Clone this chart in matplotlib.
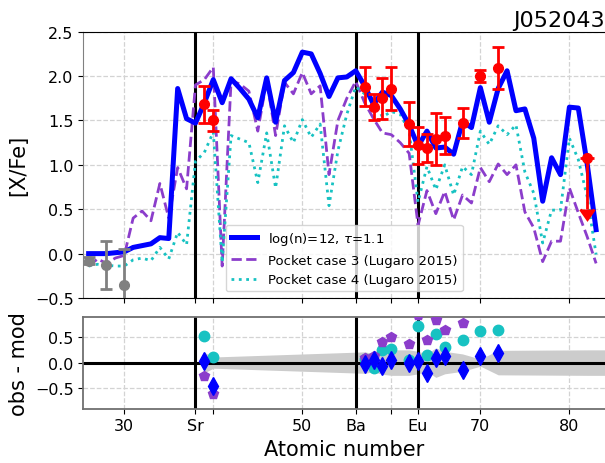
import numpy as np
import matplotlib
matplotlib.use("Agg")
import matplotlib.pyplot as plt

# ---------------- data ----------------
z_model = list(range(26, 84))
model_blue = [0.00, 0.00, 0.00, 0.01, 0.02, 0.07, 0.09, 0.11, 0.18, 0.17,
              1.86, 1.52, 1.47, 1.70, 1.96, 1.70, 1.97, 1.86, 1.74, 1.53,
              1.98, 1.48, 1.95, 2.04, 2.27, 2.25, 2.03, 1.77, 1.98, 1.99,
              2.06, 1.89, 1.68, 1.82, 1.78, 1.63, 1.45, 1.21, 1.38, 1.19,
              1.20, 1.12, 1.49, 1.42, 1.87, 1.48, 1.86, 2.06, 1.61, 1.63,
              1.30, 0.59, 1.08, 0.89, 1.65, 1.64, 1.01, 0.27]
model_case3 = [-0.14, -0.06, -0.11, -0.05, -0.02, 0.40, 0.48, 0.37, 0.79, 0.40,
               0.97, 0.73, 1.90, 1.96, 2.10, -0.14, 1.95, 1.91, 1.83, 1.38,
               1.95, 1.33, 1.93, 1.80, 2.04, 1.80, 1.89, 0.89, 1.50, 1.75,
               1.94, 1.70, 1.52, 1.36, 1.34, 1.25, 1.13, 0.32, 0.71, 0.45,
               0.70, 0.38, 0.66, 0.57, 0.97, 0.81, 1.01, 0.89, 1.00, 0.47,
               0.29, -0.09, 0.14, 0.14, 0.74, 0.46, 0.19, -0.11]
model_case4 = [-0.14, -0.12, -0.13, -0.14, -0.14, -0.07, -0.05, -0.08, 0.07, -0.06,
               0.24, 0.10, 1.04, 1.14, 1.37, -0.10, 1.33, 1.29, 1.25, 0.80,
               1.36, 0.74, 1.44, 1.25, 1.51, 1.31, 1.46, 0.54, 1.16, 1.57,
               1.88, 1.80, 1.74, 1.54, 1.60, 1.57, 1.38, 0.58, 0.98, 0.72,
               1.00, 0.66, 0.98, 0.89, 1.38, 1.23, 1.44, 1.34, 1.45, 0.92,
               0.68, 0.12, 0.49, 0.49, 1.30, 1.06, 0.64, -0.01]

# observed abundances used in the fit
z_obs = [39, 40, 57, 58, 59, 60, 62, 63, 64, 65, 66, 68, 70, 72]
obs_val = [1.68, 1.50, 1.88, 1.65, 1.75, 1.86, 1.46, 1.22, 1.19, 1.29, 1.33, 1.47, 2.00, 2.09]
obs_err = [0.21, 0.12, 0.22, 0.15, 0.23, 0.24, 0.25, 0.21, 0.16, 0.29, 0.21, 0.17, 0.07, 0.24]

# upper limit (Pb)
z_lim = [82]
lim_val = [1.08]
lim_len = [0.58]

# observed abundances not used in the fit
z_other = [26, 28, 30]
other_val = [-0.08, -0.13, -0.35]
other_err = [0.04, 0.27, 0.40]

# residuals obs - mod
res_blue = [0.03, -0.45, -0.03, 0.05, -0.06, 0.06, 0.00, 0.03, -0.21, 0.10, 0.12, -0.14, 0.13, 0.19]
res_case4 = [0.53, 0.11, 0.08, -0.11, 0.24, 0.27, 0.06, 0.71, 0.14, 0.56, 0.31, 0.44, 0.62, 0.64]
res_case3 = [-0.27, -0.61, 0.10, 0.13, 0.40, 0.51, 0.36, 0.93, 0.44, 0.84, 0.64, 0.78, 1.02, 1.08]

# uncertainty band
band_z = [39, 40, 57, 58, 59, 60, 62, 63, 64, 65, 66, 68, 70, 72, 82, 86]
band_err = [0.20, 0.11, 0.21, 0.18, 0.23, 0.25, 0.25, 0.22, 0.17, 0.29, 0.22, 0.17, 0.07, 0.24, 0.25, 0.25]

special_z = [38, 56, 63]
tick_pos = [30, 38, 40, 50, 56, 60, 63, 70, 80]
tick_lab = ['30', 'Sr', '', '50', 'Ba', '', 'Eu', '70', '80']

star = 'J052043'
label_blue = r'log(n)=12, $\tau$=1.1'
label_c3 = 'Pocket case 3 (Lugaro 2015)'
label_c4 = 'Pocket case 4 (Lugaro 2015)'

# ---------------- figure ----------------
W, H = 605, 464
fig = plt.figure(figsize=(W / 100, H / 100), dpi=100)
left = 83.3 / W
width = 1.0 - left
ax1 = fig.add_axes([left, (H - 299) / H, width, (299 - 32.7) / H])
ax2 = fig.add_axes([left, (H - 409.5) / H, width, (409.5 - 317.7) / H])

purple = '#8B3DCB'
cyan = '#17C2C2'
gridkw = dict(color='#d3d3d3', linestyle='--', linewidth=0.9)

# top panel
ax1.plot(z_model, model_blue, color='blue', lw=3.6, label=label_blue, zorder=4)
ax1.plot(z_model, model_case3, color=purple, lw=2.0, ls='--', label=label_c3, zorder=3)
ax1.plot(z_model, model_case4, color=cyan, lw=2.0, ls=':', label=label_c4, zorder=3)
for zz in special_z:
    ax1.axvline(zz, color='black', lw=2.2, zorder=2)
ax1.errorbar(z_obs, obs_val, yerr=obs_err, fmt='o', color='red', ms=7,
             elinewidth=2, capsize=4.5, capthick=2, zorder=6)
ax1.errorbar(z_lim, lim_val, yerr=lim_len, uplims=True, fmt='o', color='red', ms=7,
             elinewidth=2, capsize=5, capthick=2, zorder=6)
ax1.errorbar(z_other, other_val, yerr=other_err, fmt='o', color='gray', ms=7,
             elinewidth=2, capsize=4.5, capthick=2, zorder=6)

ax1.set_xlim(25.4, 84.0)
ax1.set_ylim(-0.5, 2.5)
ax1.set_yticks(np.arange(-0.5, 2.51, 0.5))
ax1.set_xticks(tick_pos)
ax1.set_xticklabels([])
ax1.grid(True, **gridkw)
ax1.set_axisbelow(True)
ax1.set_ylabel('[X/Fe]', fontsize=15)
ax1.set_title(star, loc='right', fontsize=16, pad=4)
ax1.legend(loc='lower center', fontsize=9.5)
ax1.tick_params(labelsize=11.5)
ax1.spines['right'].set_visible(False)
ax1.spines['left'].set_color('#808080')

# bottom panel
zb = np.array(band_z)
eb = np.array(band_err)
ax2.fill_between(zb, -eb, eb, color='#cccccc', lw=0, zorder=1)
ax2.axhline(0, color='black', lw=2.2, zorder=2)
for zz in special_z:
    ax2.axvline(zz, color='black', lw=2.2, zorder=2)
ax2.plot(z_obs, res_case4, 'o', color=cyan, ms=7.5, zorder=3)
ax2.plot(z_obs, res_case3, 'p', color=purple, ms=7.5, zorder=4)
ax2.plot(z_obs, res_blue, 'd', color='blue', ms=9, zorder=5)
ax2.set_xlim(25.4, 84.0)
ax2.set_ylim(-0.9, 0.9)
ax2.set_yticks([-0.5, 0.0, 0.5])
ax2.set_xticks(tick_pos)
ax2.set_xticklabels(tick_lab)
ax2.grid(True, **gridkw)
ax2.set_axisbelow(True)
ax2.set_ylabel('obs - mod', fontsize=15)
ax2.set_xlabel('Atomic number', fontsize=15)
ax2.tick_params(labelsize=11.5)
ax2.spines['right'].set_visible(False)
for s in ['left', 'top', 'bottom']:
    ax2.spines[s].set_color('#707070')
    ax2.spines[s].set_linewidth(1.3)

ax1.yaxis.set_label_coords(-0.105, 0.5)
ax2.yaxis.set_label_coords(-0.105, 0.5)

fig.savefig('out.png', dpi=100)
